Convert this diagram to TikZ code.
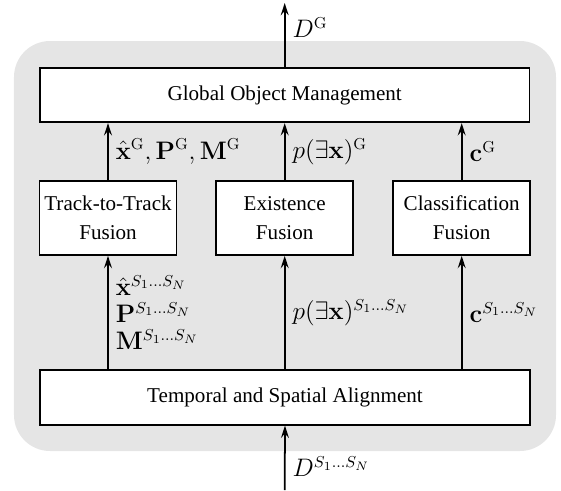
\documentclass[tikz,border=0pt,12pt]{standalone}
\usepackage{amsmath}
\usepackage{amssymb}
\usepackage[no-math]{fontspec}
\setmainfont{Liberation Serif}
\usetikzlibrary{arrows.meta}
\tikzstyle{widebox} = [draw=black, fill=white, line width=1pt,
    rectangle, minimum width=9.79cm, minimum height=1.09cm, inner sep=0pt]
\tikzstyle{fusionbox} = [draw=black, fill=white, line width=1pt,
    rectangle, minimum width=2.74cm, minimum height=1.48cm, inner sep=2pt,
    align=center, font=\fontsize{12}{16.5}\selectfont]
\tikzstyle{flow} = [line width=1pt, -{Stealth[length=7pt,width=4.5pt,inset=2.5pt]}]
\tikzstyle{flowlabel} = [right, inner sep=4pt, font=\fontsize{13.5}{15.5}\selectfont]

\begin{document}
\begin{tikzpicture}
                \useasboundingbox (0,0) rectangle (11.22,-9.8);
                % shaded frame
                \fill[black!10, rounded corners=0.72cm] (0.28,-0.82) rectangle (11.12,-9.02);
                \node [widebox] (gom) at (5.694,-1.90) {Global Object Management};
                \node [fusionbox] (ttt) at (2.16,-4.36) {Track-to-Track\\Fusion};
                \node [fusionbox] (exist) at (5.694,-4.36) {Existence\\Fusion};
                \node [fusionbox] (classif) at (9.234,-4.36) {Classification\\Fusion};
                \node [widebox] (align) at (5.70,-7.95) {Temporal and Spatial Alignment};
                \coordinate (out) at (5.694,-0.06);
                \coordinate (in) at (5.694,-9.8);
                % output and input
                \draw[flow] (gom.north) -- node[flowlabel, pos=0.62] {$D^{\mathrm{G}}$} (out);
                \draw[flow] (in) -- node[flowlabel, pos=0.36] {$D^{S_1\ldots S_N}$} (align.south);
                % fused results
                \draw[flow] (ttt.north) -- node[flowlabel] {$\hat{\mathbf{x}}^{\mathrm{G}}, \mathbf{P}^{\mathrm{G}}, \mathbf{M}^{\mathrm{G}}$} (gom.south -| ttt);
                \draw[flow] (exist.north) -- node[flowlabel] {$p(\exists\mathbf{x})^{\mathrm{G}}$} (gom.south -| exist);
                \draw[flow] (classif.north) -- node[flowlabel] {$\mathbf{c}^{\mathrm{G}}$} (gom.south -| classif);
                % aligned sensor data
                \draw[flow] (align.north -| ttt) -- node[flowlabel, align=left]
                    {$\hat{\mathbf{x}}^{S_1\ldots S_N}$\\$\mathbf{P}^{S_1\ldots S_N}$\\$\mathbf{M}^{S_1\ldots S_N}$} (ttt.south);
                \draw[flow] (align.north -| exist) -- node[flowlabel] {$p(\exists\mathbf{x})^{S_1\ldots S_N}$} (exist.south);
                \draw[flow] (align.north -| classif) -- node[flowlabel] {$\mathbf{c}^{S_1\ldots S_N}$} (classif.south);
            \end{tikzpicture}
\end{document}
